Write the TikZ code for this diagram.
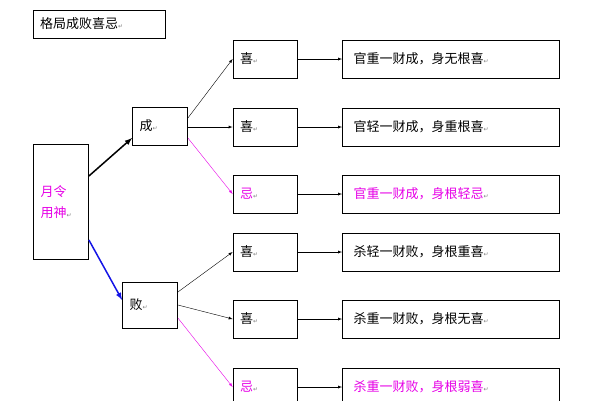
\documentclass[tikz,border=0pt]{standalone}
\usepackage{fontspec}
\setmainfont{Noto Sans CJK SC}
\newfontfamily\djfont{DejaVu Sans}
\definecolor{mag}{RGB}{230,0,230}
\definecolor{blu}{RGB}{20,20,230}
\newcommand{\parmark}{{\djfont\fontsize{6}{6}\selectfont\color{gray}↵}}
\begin{document}
\begin{tikzpicture}[x=1pt,y=-1pt,
  bx/.style={draw,thick,minimum width=#1,text width=#1-14pt,align=left,minimum height=38pt,inner xsep=7pt,inner ysep=0pt,font=\fontsize{13}{15}\selectfont},
  ar/.style={-latex,thin}]
\useasboundingbox (0,0) rectangle (600,400);
\clip (0,0) rectangle (600,400);
\node[bx=132pt,minimum height=28pt] (t) at (99,24) {格局成败喜忌\parmark};
\node[bx=55pt,minimum height=115pt,text=mag] (y) at (61,202) {月令\\[6pt]用神\parmark};
\node[bx=55pt] (c) at (160,126) {成\parmark};
\node[bx=55pt,minimum height=46pt] (b) at (150,305) {败\parmark};
\foreach \n/\yy/\t/\r/\col in {a/59/喜/官重一财成，身无根喜/black, bb/127/喜/官轻一财成，身重根喜/black, cc/194/忌/官重一财成，身根轻忌/mag, d/252/喜/杀轻一财败，身根重喜/black, e/319/喜/杀重一财败，身根无喜/black, f/387/忌/杀重一财败，身根弱喜/mag}{
  \node[bx=64pt,text=\col] (\n1) at (265,\yy) {\t\parmark};
  \node[bx=217pt,text=\col,inner xsep=11pt,text width=195pt] (\n2) at (451,\yy) {\r\parmark};
  \draw[ar] (\n1) -- (\n2);
}
\draw[-latex,line width=1.5pt] (y.east|-0,176) -- (c.west|-0,138);
\draw[-latex,line width=1.5pt,blu] (y.east|-0,240) -- (b.west|-0,300);
\draw[ar] (c.east|-0,118) -- (a1.west);
\draw[ar] (c.east|-0,127) -- (bb1.west);
\draw[ar,mag] (c.east|-0,138) -- (cc1.west);
\draw[ar] (b.east|-0,292) -- (d1.west);
\draw[ar] (b.east|-0,305) -- (e1.west);
\draw[ar,mag] (b.east|-0,318) -- (f1.west);
\end{tikzpicture}
\end{document}
